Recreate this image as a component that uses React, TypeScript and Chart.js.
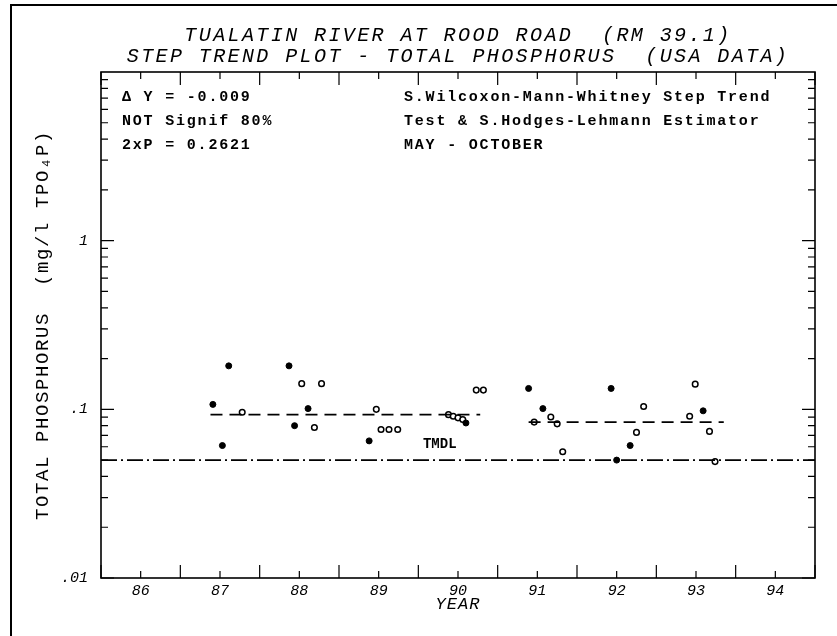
import React, { useEffect, useRef } from 'react';
import { Chart, registerables } from 'chart.js';

Chart.register(...registerables);

// ---------- data ----------
const filledX = [86.91, 87.03, 87.11, 87.87, 87.94, 88.11, 88.88, 90.10, 90.89, 91.07, 91.93, 92.0, 92.17, 93.09];
const filledY = [0.107, 0.061, 0.181, 0.181, 0.08, 0.101, 0.065, 0.083, 0.133, 0.101, 0.133, 0.05, 0.061, 0.098];

const openX = [87.28, 88.03, 88.19, 88.28, 88.97, 89.03, 89.13, 89.24, 89.88, 89.94, 90.0, 90.06, 90.23, 90.32, 90.96, 91.17, 91.25, 91.32, 92.25, 92.34, 92.92, 92.99, 93.17, 93.24];
const openY = [0.096, 0.142, 0.078, 0.142, 0.1, 0.076, 0.076, 0.076, 0.093, 0.091, 0.089, 0.087, 0.13, 0.13, 0.084, 0.09, 0.082, 0.056, 0.073, 0.104, 0.091, 0.141, 0.074, 0.049];

const step1X = [86.88, 90.28];
const step1Y = [0.093, 0.093];
const step2X = [90.89, 93.35];
const step2Y = [0.084, 0.084];
const tmdlX = [85.5, 94.5];
const tmdlY = [0.05, 0.05];

const yearLabels = ['86', '87', '88', '89', '90', '91', '92', '93', '94'];
const yLabelValues = [0.01, 0.1, 1];
const yLabelTexts = ['.01', '.1', '1'];

const titleLines = ['TUALATIN RIVER AT ROOD ROAD  (RM 39.1)', 'STEP TREND PLOT - TOTAL PHOSPHORUS  (USA DATA)'];
const leftNotes = ['\u0394 Y = -0.009', 'NOT Signif 80%', '2xP = 0.2621'];
const rightNotes = ['S.Wilcoxon-Mann-Whitney Step Trend', 'Test & S.Hodges-Lehmann Estimator', 'MAY - OCTOBER'];
const yTitle = 'TOTAL PHOSPHORUS  (mg/l TPO\u2084P)';
const xTitle = 'YEAR';
const tmdlLabel = 'TMDL';
const tmdlLabelAt = { x: 89.77, y: 0.062 };

const pts = (xs: number[], ys: number[]) => xs.map((x, i) => ({ x, y: ys[i] }));

const W = 837;
const H = 636;
const PLOT_LEFT = 101;
const PLOT_RIGHT = 815;
const PLOT_TOP = 72;
const PLOT_BOTTOM = 578;

const decorations = {
  id: 'decorations',
  afterDraw(chart: any) {
    const ctx = chart.ctx as CanvasRenderingContext2D;
    const xs = chart.scales.x;
    const ys = chart.scales.y;
    const { left, right, top, bottom } = chart.chartArea;
    ctx.save();
    ctx.strokeStyle = '#000';
    ctx.fillStyle = '#000';

    // outer frame
    ctx.lineWidth = 2;
    ctx.beginPath();
    ctx.moveTo(11, H);
    ctx.lineTo(11, 5);
    ctx.lineTo(W, 5);
    ctx.stroke();

    // plot frame
    ctx.lineWidth = 1.6;
    ctx.strokeRect(left, top, right - left, bottom - top);

    // x ticks (bottom & top, inward)
    ctx.lineWidth = 1.2;
    for (let v = 85.5; v <= 94.5001; v += 0.5) {
      const px = xs.getPixelForValue(v);
      const major = Math.abs(v - Math.round(v)) > 0.25;
      const len = major ? 13 : 7;
      ctx.beginPath();
      ctx.moveTo(px, bottom);
      ctx.lineTo(px, bottom - len);
      ctx.moveTo(px, top);
      ctx.lineTo(px, top + len);
      ctx.stroke();
    }
    // y ticks (left & right, inward)
    for (let e = -2; e <= 0; e++) {
      for (let m = 1; m <= 9; m++) {
        const v = m * Math.pow(10, e);
        const py = ys.getPixelForValue(v);
        const len = m === 1 ? 13 : 7;
        ctx.beginPath();
        ctx.moveTo(left, py);
        ctx.lineTo(left + len, py);
        ctx.moveTo(right, py);
        ctx.lineTo(right - len, py);
        ctx.stroke();
      }
    }

    ctx.textBaseline = 'middle';
    // titles
    ctx.font = 'italic 20px "Liberation Mono"';
    (ctx as any).letterSpacing = '2.4px';
    ctx.textAlign = 'center';
    const cx = (left + right) / 2;
    ctx.fillText(titleLines[0], cx, 36);
    ctx.fillText(titleLines[1], cx, 57);

    // notes
    ctx.font = 'bold 15px "Liberation Mono"';
    (ctx as any).letterSpacing = '1.8px';
    ctx.textAlign = 'left';
    const rows = [97, 121, 145];
    leftNotes.forEach((t, i) => ctx.fillText(t, 122, rows[i]));
    rightNotes.forEach((t, i) => ctx.fillText(t, 404, rows[i]));

    // TMDL label
    ctx.font = 'bold 14px "Liberation Mono"';
    (ctx as any).letterSpacing = '0px';
    ctx.textAlign = 'center';
    ctx.fillText(tmdlLabel, xs.getPixelForValue(tmdlLabelAt.x), ys.getPixelForValue(tmdlLabelAt.y));

    // x title
    ctx.font = 'italic 17px "Liberation Mono"';
    (ctx as any).letterSpacing = '1px';
    ctx.fillText(xTitle, cx, 604);

    // y title
    ctx.save();
    ctx.translate(43, (top + bottom) / 2);
    ctx.rotate(-Math.PI / 2);
    ctx.font = '19px "Liberation Mono"';
    (ctx as any).letterSpacing = '1.6px';
    ctx.fillText(yTitle, 0, 0);
    ctx.restore();

    ctx.restore();
  },
};

export default function App() {
  const ref = useRef<HTMLCanvasElement | null>(null);
  useEffect(() => {
    if (!ref.current) return;
    const chart = new Chart(ref.current, {
      type: 'scatter',
      data: {
        datasets: [
          {
            label: 'TMDL',
            data: pts(tmdlX, tmdlY),
            showLine: true,
            borderColor: '#000',
            borderWidth: 1.6,
            borderDash: [16, 4, 2, 4],
            pointRadius: 0,
          },
          {
            label: 'step1',
            data: pts(step1X, step1Y),
            showLine: true,
            borderColor: '#000',
            borderWidth: 1.6,
            borderDash: [12, 7],
            pointRadius: 0,
          },
          {
            label: 'step2',
            data: pts(step2X, step2Y),
            showLine: true,
            borderColor: '#000',
            borderWidth: 1.6,
            borderDash: [12, 7],
            pointRadius: 0,
          },
          {
            label: 'filled',
            data: pts(filledX, filledY),
            pointRadius: 3,
            backgroundColor: '#000',
            borderColor: '#000',
            borderWidth: 1,
          },
          {
            label: 'open',
            data: pts(openX, openY),
            pointRadius: 2.8,
            backgroundColor: '#fff',
            borderColor: '#000',
            borderWidth: 1.5,
          },
        ],
      },
      options: {
        animation: false,
        responsive: false,
        maintainAspectRatio: false,
        devicePixelRatio: 1,
        layout: { padding: { top: PLOT_TOP, right: W - PLOT_RIGHT, left: 0, bottom: 0 } },
        plugins: { legend: { display: false }, tooltip: { enabled: false }, title: { display: false } },
        scales: {
          x: {
            type: 'linear',
            min: 85.5,
            max: 94.5,
            afterBuildTicks: (scale: any) => {
              scale.ticks = yearLabels.map((_, i) => ({ value: 86 + i }));
            },
            afterFit: (scale: any) => {
              scale.height = H - PLOT_BOTTOM;
            },
            ticks: {
              autoSkip: false,
              maxRotation: 0,
              padding: 4,
              color: '#000',
              font: { family: '"Liberation Mono"', size: 15, style: 'italic' },
              callback: (v: any) => {
                const i = Math.round(Number(v)) - 86;
                return yearLabels[i] ?? '';
              },
            },
            grid: { display: false, drawTicks: false },
            border: { display: false },
          },
          y: {
            type: 'logarithmic',
            min: 0.01,
            max: 10,
            afterBuildTicks: (scale: any) => {
              scale.ticks = yLabelValues.map((v) => ({ value: v }));
            },
            afterFit: (scale: any) => {
              scale.width = PLOT_LEFT;
            },
            ticks: {
              autoSkip: false,
              padding: 13,
              color: '#000',
              font: { family: '"Liberation Mono"', size: 15, style: 'italic' },
              callback: (v: any) => {
                const i = yLabelValues.findIndex((t) => Math.abs(Math.log10(t) - Math.log10(Number(v))) < 1e-6);
                return i >= 0 ? yLabelTexts[i] : '';
              },
            },
            grid: { display: false, drawTicks: false },
            border: { display: false },
          },
        },
      },
      plugins: [decorations],
    } as any);
    return () => chart.destroy();
  }, []);
  return (
    <div style={{ position: 'absolute', left: 0, top: 0, width: W, height: H, background: '#fff' }}>
      <canvas ref={ref} width={W} height={H} style={{ width: W, height: H, display: 'block' }} />
    </div>
  );
}
